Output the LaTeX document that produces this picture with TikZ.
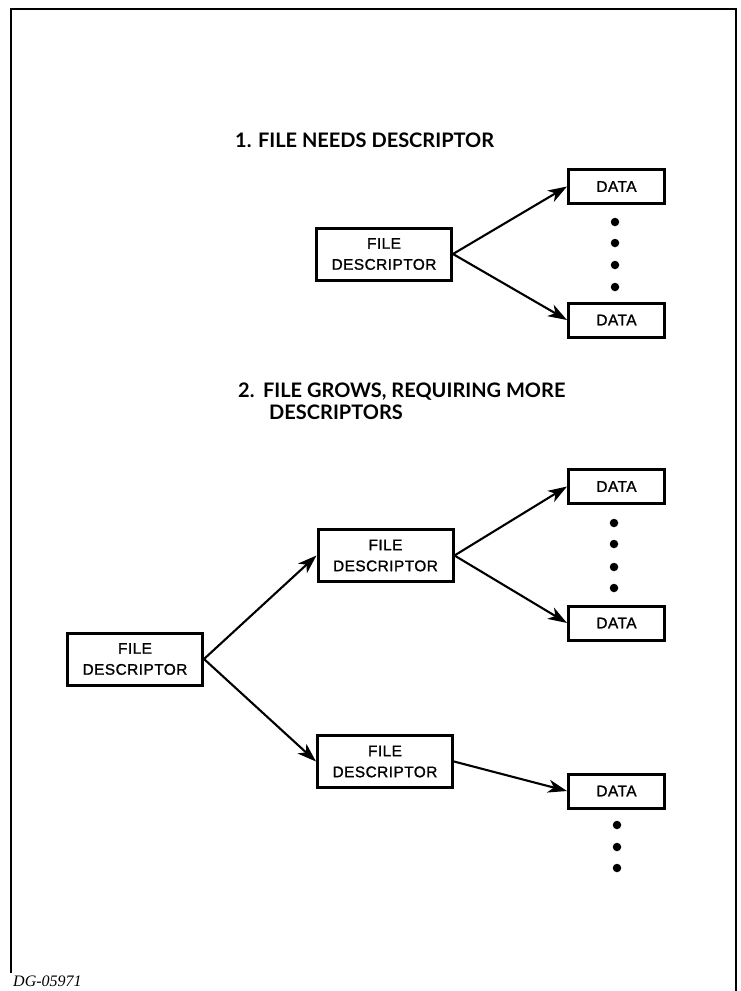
\documentclass[tikz,border=0pt]{standalone}
\usepackage{fontspec}
\setmainfont{Liberation Sans}
\newfontfamily\boxfont[LetterSpace=3,FakeBold=1.2]{Liberation Sans}
\newfontfamily\headfont{Lato}
\newfontfamily\tagfont{Liberation Serif}
\usetikzlibrary{arrows.meta}
\begin{document}
\begin{tikzpicture}[x=1pt,y=-1pt,
  blk/.style={draw, line width=3pt, inner sep=0pt, align=center,
    font=\boxfont\fontsize{15.4}{21}\selectfont},
  fdbox/.style={blk, minimum width=135pt, minimum height=52pt},
  databox/.style={blk, minimum width=96pt, minimum height=34pt},
  link/.style={line width=2.1pt, -{Stealth[length=19pt,width=13pt,inset=5.5pt]}},
  dot/.style={circle, fill, inner sep=0pt, minimum size=8.5pt},
  heading/.style={anchor=base west, inner sep=0pt,
    font=\headfont\bfseries\fontsize{20}{22}\selectfont}]
\useasboundingbox (0,0) rectangle (740,991);

% page frame
\draw[line width=2pt] (11,973) -- (11,9) -- (736,9) -- (736,991);
\node[anchor=base west, inner sep=0pt, font=\tagfont\itshape\fontsize{16}{16}\selectfont]
  (tag) at (13,986) {DG-05971};

% part 1
\node[heading] (h1) at (235,147) {1. FILE NEEDS DESCRIPTOR};
\node[fdbox] (fd1) at (384,254) {FILE\\DESCRIPTOR};
\node[databox] (d1a) at (616.5,186.5) {DATA};
\node[databox] (d1b) at (616.5,320) {DATA};
\foreach \y/\n in {222/1,243/2,265/3,287/4}
  \node[dot] (p1\n) at (615,\y) {};
\draw[link] (fd1.east) -- (d1a.west);
\draw[link] (fd1.east) -- (d1b.west);

% part 2
\node[heading] (h2a) at (238,397) {2.\hspace{2pt} FILE GROWS, REQUIRING MORE};
\node[heading] (h2b) at (269,419) {DESCRIPTORS};
\node[fdbox] (fd2) at (135,659) {FILE\\DESCRIPTOR};
\node[fdbox] (fd3) at (385.5,555.5) {FILE\\DESCRIPTOR};
\node[fdbox] (fd4) at (385,761.5) {FILE\\DESCRIPTOR};
\node[databox] (d2a) at (616.5,486.5) {DATA};
\node[databox] (d2b) at (616.5,623) {DATA};
\node[databox] (d3) at (616.5,791) {DATA};
\foreach \y/\n in {523/1,544/2,567/3,588/4}
  \node[dot] (p2\n) at (614,\y) {};
\foreach \y/\n in {825/1,847/2,868/3}
  \node[dot] (p3\n) at (617,\y) {};
\draw[link] (fd2.east) -- (fd3.west);
\draw[link] (fd2.east) -- (fd4.west);
\draw[link] (fd3.east) -- (d2a.west);
\draw[link] (fd3.east) -- (d2b.west);
\draw[link] (fd4.east) -- (d3.west);
\end{tikzpicture}
\end{document}
